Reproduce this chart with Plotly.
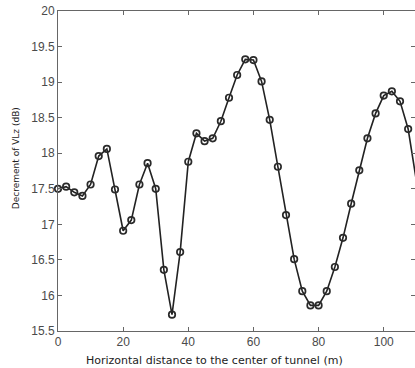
import plotly.graph_objects as go

distance_m = [0, 2.5, 5, 7.5, 10, 12.5, 15, 17.5, 20, 22.5, 25, 27.5, 30, 32.5, 35, 37.5,
              40, 42.5, 45, 47.5, 50, 52.5, 55, 57.5, 60, 62.5, 65, 67.5, 70, 72.5, 75, 77.5,
              80, 82.5, 85, 87.5, 90, 92.5, 95, 97.5, 100, 102.5, 105, 107.5, 110]
decrement_db = [17.50, 17.53, 17.45, 17.40, 17.56, 17.96, 18.06, 17.49, 16.91, 17.06, 17.56, 17.86,
                17.50, 16.36, 15.73, 16.61, 17.88, 18.28, 18.17, 18.21, 18.45, 18.78, 19.10, 19.32,
                19.31, 19.01, 18.47, 17.81, 17.13, 16.51, 16.06, 15.86, 15.86, 16.06, 16.40, 16.81,
                17.29, 17.76, 18.21, 18.56, 18.81, 18.87, 18.73, 18.34, 17.62]
x_ticks = [0, 20, 40, 60, 80, 100]
y_ticks = [15.5, 16, 16.5, 17, 17.5, 18, 18.5, 19, 19.5, 20]
y_tick_text = ["15.5", "16", "16.5", "17", "17.5", "18", "18.5", "19", "19.5", "20"]

fig = go.Figure()
fig.add_trace(go.Scatter(
    x=distance_m, y=decrement_db, mode="lines+markers",
    line=dict(color="#222222", width=1.6),
    marker=dict(symbol="circle-open", size=6.5, color="#2a2a2a", line=dict(width=1.7)),
    cliponaxis=False, showlegend=False,
))

axis_common = dict(
    showline=True, linecolor="#666666", linewidth=1, mirror="ticks",
    ticks="inside", ticklen=4, tickcolor="#666666", tickwidth=1,
    showgrid=False, zeroline=False,
    tickfont=dict(family="Arial, Liberation Sans", size=12, color="#4a4a4a"),
)
fig.update_xaxes(range=[0, 109.6], tickvals=x_ticks, **axis_common)
fig.update_yaxes(range=[15.5, 20], tickvals=y_ticks, ticktext=y_tick_text, **axis_common)

fig.add_annotation(
    text="Horizontal distance to the center of tunnel (m)",
    xref="paper", yref="paper", x=0.437, y=0, yshift=-21, yanchor="top",
    showarrow=False, font=dict(family="DejaVu Sans", size=11, color="#222222"),
)
fig.add_annotation(
    text="Decrement of VLz (dB)", textangle=-90,
    xref="paper", yref="paper", x=0, xshift=-49, y=0.54,
    showarrow=False, font=dict(family="DejaVu Sans", size=9, color="#222222"),
)

fig.update_layout(
    width=415, height=368,
    margin=dict(l=58, r=0, t=11, b=37),
    paper_bgcolor="white", plot_bgcolor="white",
)
fig.write_html("out.html")
